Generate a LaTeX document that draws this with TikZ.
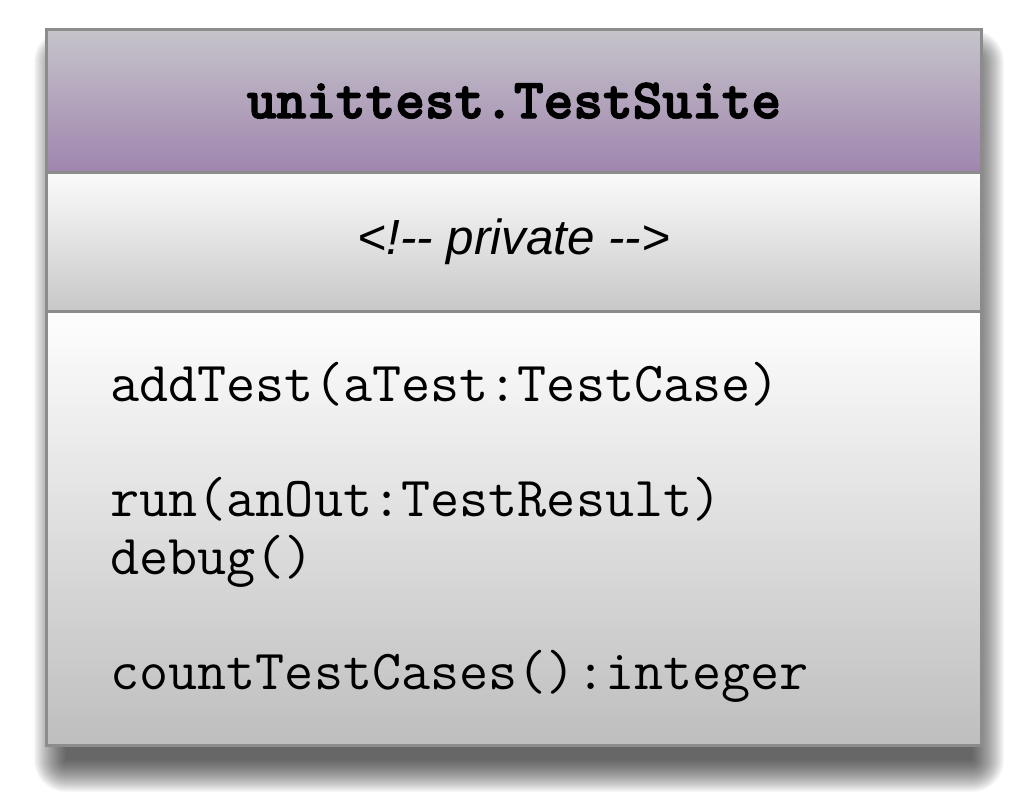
\documentclass[tikz,border=0pt]{standalone}
\usepackage{fontspec}
\newfontfamily\notefont{Liberation Sans}
\newfontfamily\headfont{lmmonolt10-bold.otf}[FakeBold=2.5]
\usetikzlibrary{positioning}

\definecolor{umlborder}{RGB}{140,140,140}
\definecolor{headtop}{RGB}{198,196,202}
\definecolor{headbottom}{RGB}{159,133,174}
\definecolor{attrtop}{RGB}{251,251,251}
\definecolor{attrbottom}{RGB}{200,200,200}
\definecolor{opstop}{RGB}{254,254,254}
\definecolor{opsbottom}{RGB}{190,190,190}

\tikzset{
  compartment/.style={draw=umlborder, line width=2.25pt, minimum width=701.25pt,
    inner sep=0pt, outer sep=0pt},
  bigtext/.style={font=\fontsize{42.4}{50}\selectfont},
  method/.style={bigtext, anchor=base west, inner sep=0pt}
}

\begin{document}
\begin{tikzpicture}[x=0.75pt, y=-0.75pt, node distance=0pt]
\useasboundingbox (0,0) rectangle (1030,809);

% soft shadow behind the whole class box
\foreach \k in {0,...,32}
  \fill[black, opacity=0.028, rounded corners=0.75*\k pt] (66-\k,62-\k) rectangle (972+\k,760+\k);

\node (title) [compartment, anchor=north west, minimum height=106.9pt, top color=headtop, bottom color=headbottom, bigtext] at (46.5,29.5) {\headfont unittest.TestSuite};
\node (private) [compartment, below=of title, minimum height=104.6pt, top color=attrtop, bottom color=attrbottom, font=\fontsize{37}{44}\selectfont] {\notefont\itshape <!-- private -->};
\node (methods) [compartment, below=of private, minimum height=325.5pt, top color=opstop, bottom color=opsbottom] {};

\node (addtest) [method] at (110,401.5) {\ttfamily addTest(aTest:TestCase)};
\node (run) [method] at (110,516) {\ttfamily run(anOut:TestResult)};
\node (debug) [method] at (110,574.5) {\ttfamily debug()};
\node (count) [method] at (110,689.5) {\ttfamily countTestCases():integer};
\end{tikzpicture}
\end{document}
